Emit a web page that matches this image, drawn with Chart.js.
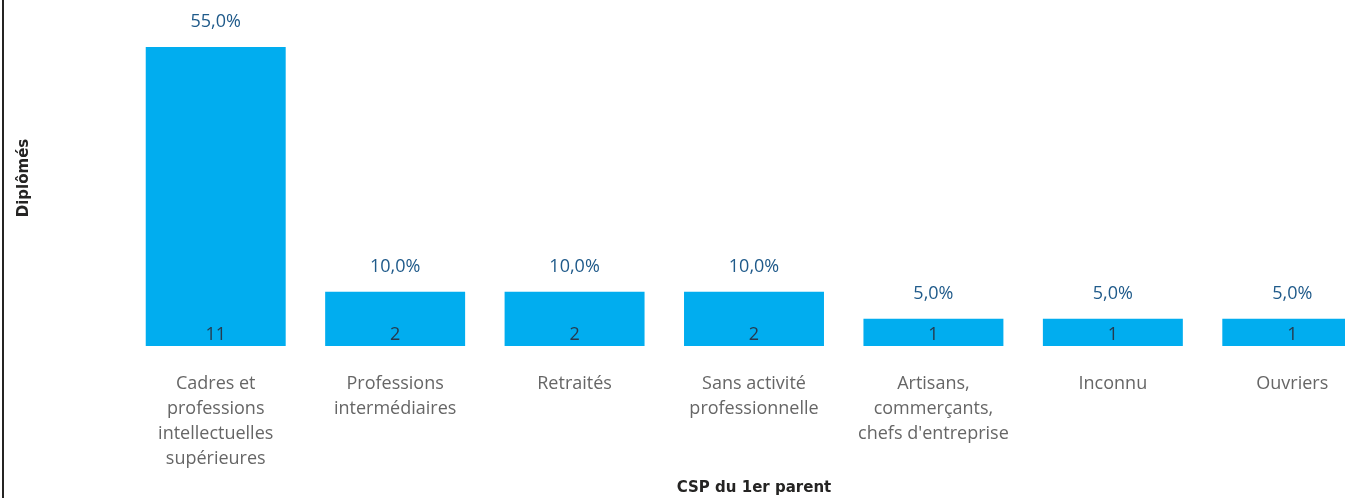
<!DOCTYPE html>
<html>
<head>
<meta charset="utf-8">
<script src="https://cdn.jsdelivr.net/npm/chart.js@4"></script>
<style>
  html, body { margin: 0; padding: 0; background: #fff; overflow: hidden; }
  #cadre { position: relative; width: 1345px; height: 498px; overflow: hidden; }
  #trait { position: absolute; left: 2px; top: 0; width: 2px; height: 498px; background: #252423; z-index: 2; }
  #zone { position: absolute; left: 0; top: 0; width: 1390px; height: 498px; }
</style>
</head>
<body>
<div id="cadre">
  <div id="trait"></div>
  <div id="zone"><canvas id="graphique"></canvas></div>
</div>
<script>
// categories (CSP du 1er parent)
const categories = [
  ['Cadres et', 'professions', 'intellectuelles', 'supérieures'],
  ['Professions', 'intermédiaires'],
  ['Retraités'],
  ['Sans activité', 'professionnelle'],
  ['Artisans,', 'commerçants,', "chefs d'entreprise"],
  ['Inconnu'],
  ['Ouvriers']
];
// nombre de diplômés
const effectifs = [11, 2, 2, 2, 1, 1, 1];
// part des diplômés
const pourcentages = ['55,0%', '10,0%', '10,0%', '10,0%', '5,0%', '5,0%', '5,0%'];

const etiquettes = {
  id: 'etiquettes',
  afterDatasetsDraw(chart) {
    const ctx = chart.ctx;
    const meta = chart.getDatasetMeta(0);
    ctx.save();
    ctx.textAlign = 'center';
    ctx.textBaseline = 'middle';
    meta.data.forEach((bar, i) => {
      ctx.font = '18px "Open Sans"';
      ctx.fillStyle = '#1F5A8A';
      ctx.fillText(pourcentages[i], bar.x, bar.y - 25);
      ctx.fillStyle = '#253B4F';
      ctx.fillText(String(effectifs[i]), bar.x, bar.base - 11);
    });
    ctx.restore();
  }
};

new Chart(document.getElementById('graphique'), {
  type: 'bar',
  data: {
    labels: categories,
    datasets: [{
      data: effectifs,
      backgroundColor: '#01ADEF',
      categoryPercentage: 0.78,
      barPercentage: 1
    }]
  },
  options: {
    responsive: true,
    maintainAspectRatio: false,
    animation: false,
    layout: { padding: { left: 15, top: 10, right: 8, bottom: 1 } },
    plugins: { legend: { display: false }, tooltip: { enabled: false } },
    scales: {
      x: {
        grid: { display: false },
        border: { display: false },
        ticks: {
          color: '#666666',
          font: { family: 'Open Sans', size: 18, lineHeight: 1.39 },
          padding: 17,
          maxRotation: 0,
          autoSkip: false
        },
        title: {
          display: true,
          text: 'CSP du 1er parent',
          color: '#252423',
          font: { family: 'DejaVu Sans', size: 15, weight: '600' },
          padding: { top: 6, bottom: 0 }
        },
        afterFit(axis) { axis.height = 151; }
      },
      y: {
        min: 0,
        max: 12.36,
        grid: { display: false },
        border: { display: false },
        ticks: { display: false },
        title: {
          display: true,
          text: 'Diplômés',
          color: '#252423',
          font: { family: 'DejaVu Sans', size: 15, weight: '600' },
          padding: 0
        },
        afterFit(axis) { axis.width = 111; }
      }
    }
  },
  plugins: [etiquettes]
});
</script>
</body>
</html>
